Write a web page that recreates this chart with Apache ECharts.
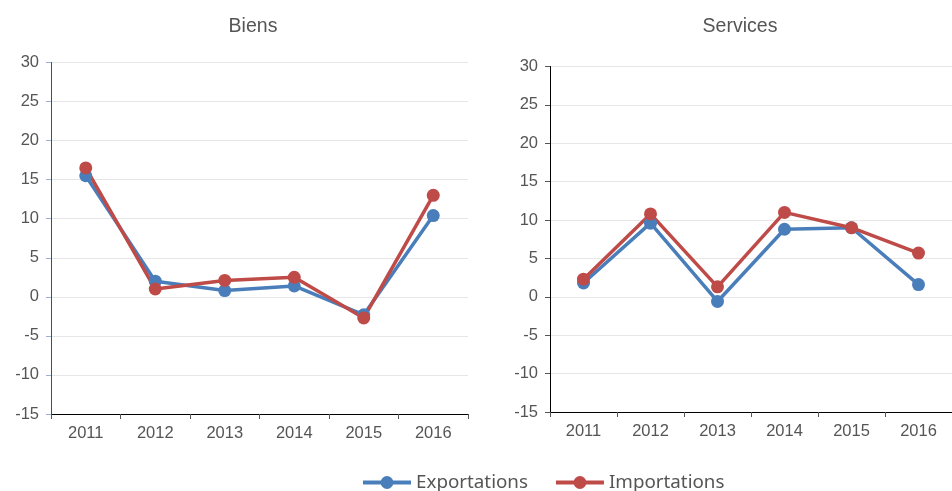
<!DOCTYPE html>
<html>
<head>
<meta charset="utf-8">
<script src="https://cdn.jsdelivr.net/npm/echarts@6/dist/echarts.min.js"></script>
<style>
  html, body { margin: 0; padding: 0; background: #fff; }
  #chart { width: 952px; height: 491px; }
</style>
</head>
<body>
<div id="chart"></div>
<script>
// données
const years = ["2011", "2012", "2013", "2014", "2015", "2016"];
const biensExport = [15.5, 2.0, 0.8, 1.4, -2.3, 10.4];
const biensImport = [16.5, 1.0, 2.1, 2.5, -2.7, 13.0];
const servicesExport = [1.8, 9.6, -0.6, 8.8, 9.0, 1.6];
const servicesImport = [2.3, 10.8, 1.3, 11.0, 9.0, 5.7];

const blue = "#4a7ebb";
const red = "#be4b48";

const chart = echarts.init(document.getElementById("chart"));

const xAxisCommon = {
  type: "category",
  data: years,
  boundaryGap: true,
  axisLine: { onZero: false, lineStyle: { color: "#000", width: 1 } },
  axisTick: { show: true, length: 5, lineStyle: { color: "#555" } },
  axisLabel: { color: "#555", fontSize: 16.5, margin: 11, fontFamily: "Liberation Sans" },
};

const yAxisCommon = {
  type: "value",
  min: -15,
  max: 30,
  interval: 5,
  axisLabel: { color: "#555", fontSize: 16.5, margin: 12, fontFamily: "Liberation Sans" },
  splitLine: { show: true, lineStyle: { color: "#e6e6e6" } },
};

const lineSeries = (name, data, color, idx) => ({
  name: name,
  type: "line",
  xAxisIndex: idx,
  yAxisIndex: idx,
  data: data,
  symbol: "circle",
  symbolSize: 13,
  lineStyle: { width: 3.5, color: color },
  itemStyle: { color: color },
  emphasis: { disabled: true },
});

const titleStyle = { color: "#555", fontSize: 19.5, fontWeight: "normal", fontFamily: "Liberation Sans" };

const option = {
  animation: false,
  title: [
    { text: "Biens", left: 248, top: 12, textAlign: "center", textStyle: titleStyle },
    { text: "Services", left: 735, top: 12, textAlign: "center", textStyle: titleStyle },
  ],
  legend: {
    data: ["Exportations", "Importations"],
    bottom: -6,
    left: 356,
    itemWidth: 48,
    itemHeight: 16,
    itemGap: 26,
    lineStyle: { width: 4 },
    textStyle: { color: "#555", fontSize: 18.8, fontFamily: "Noto Sans" },
  },
  grid: [
    { left: 51, top: 62.5, width: 417, height: 351.5 },
    { left: 550, top: 66.5, width: 411, height: 345.5 },
  ],
  xAxis: [
    Object.assign({}, xAxisCommon, { gridIndex: 0 }),
    Object.assign({}, xAxisCommon, { gridIndex: 1 }),
  ],
  yAxis: [
    Object.assign({}, yAxisCommon, {
      gridIndex: 0,
      axisLine: { show: true, lineStyle: { color: "#2f4f8f" } },
      axisTick: { show: true, length: 5, lineStyle: { color: "#9ab0d6" } },
    }),
    Object.assign({}, yAxisCommon, {
      gridIndex: 1,
      axisLine: { show: true, lineStyle: { color: "#000" } },
      axisTick: { show: true, length: 5, lineStyle: { color: "#555" } },
    }),
  ],
  series: [
    lineSeries("Exportations", biensExport, blue, 0),
    lineSeries("Importations", biensImport, red, 0),
    lineSeries("Exportations", servicesExport, blue, 1),
    lineSeries("Importations", servicesImport, red, 1),
  ],
};

chart.setOption(option);
window.onresize = function () {
  chart.resize();
};
</script>
</body>
</html>
